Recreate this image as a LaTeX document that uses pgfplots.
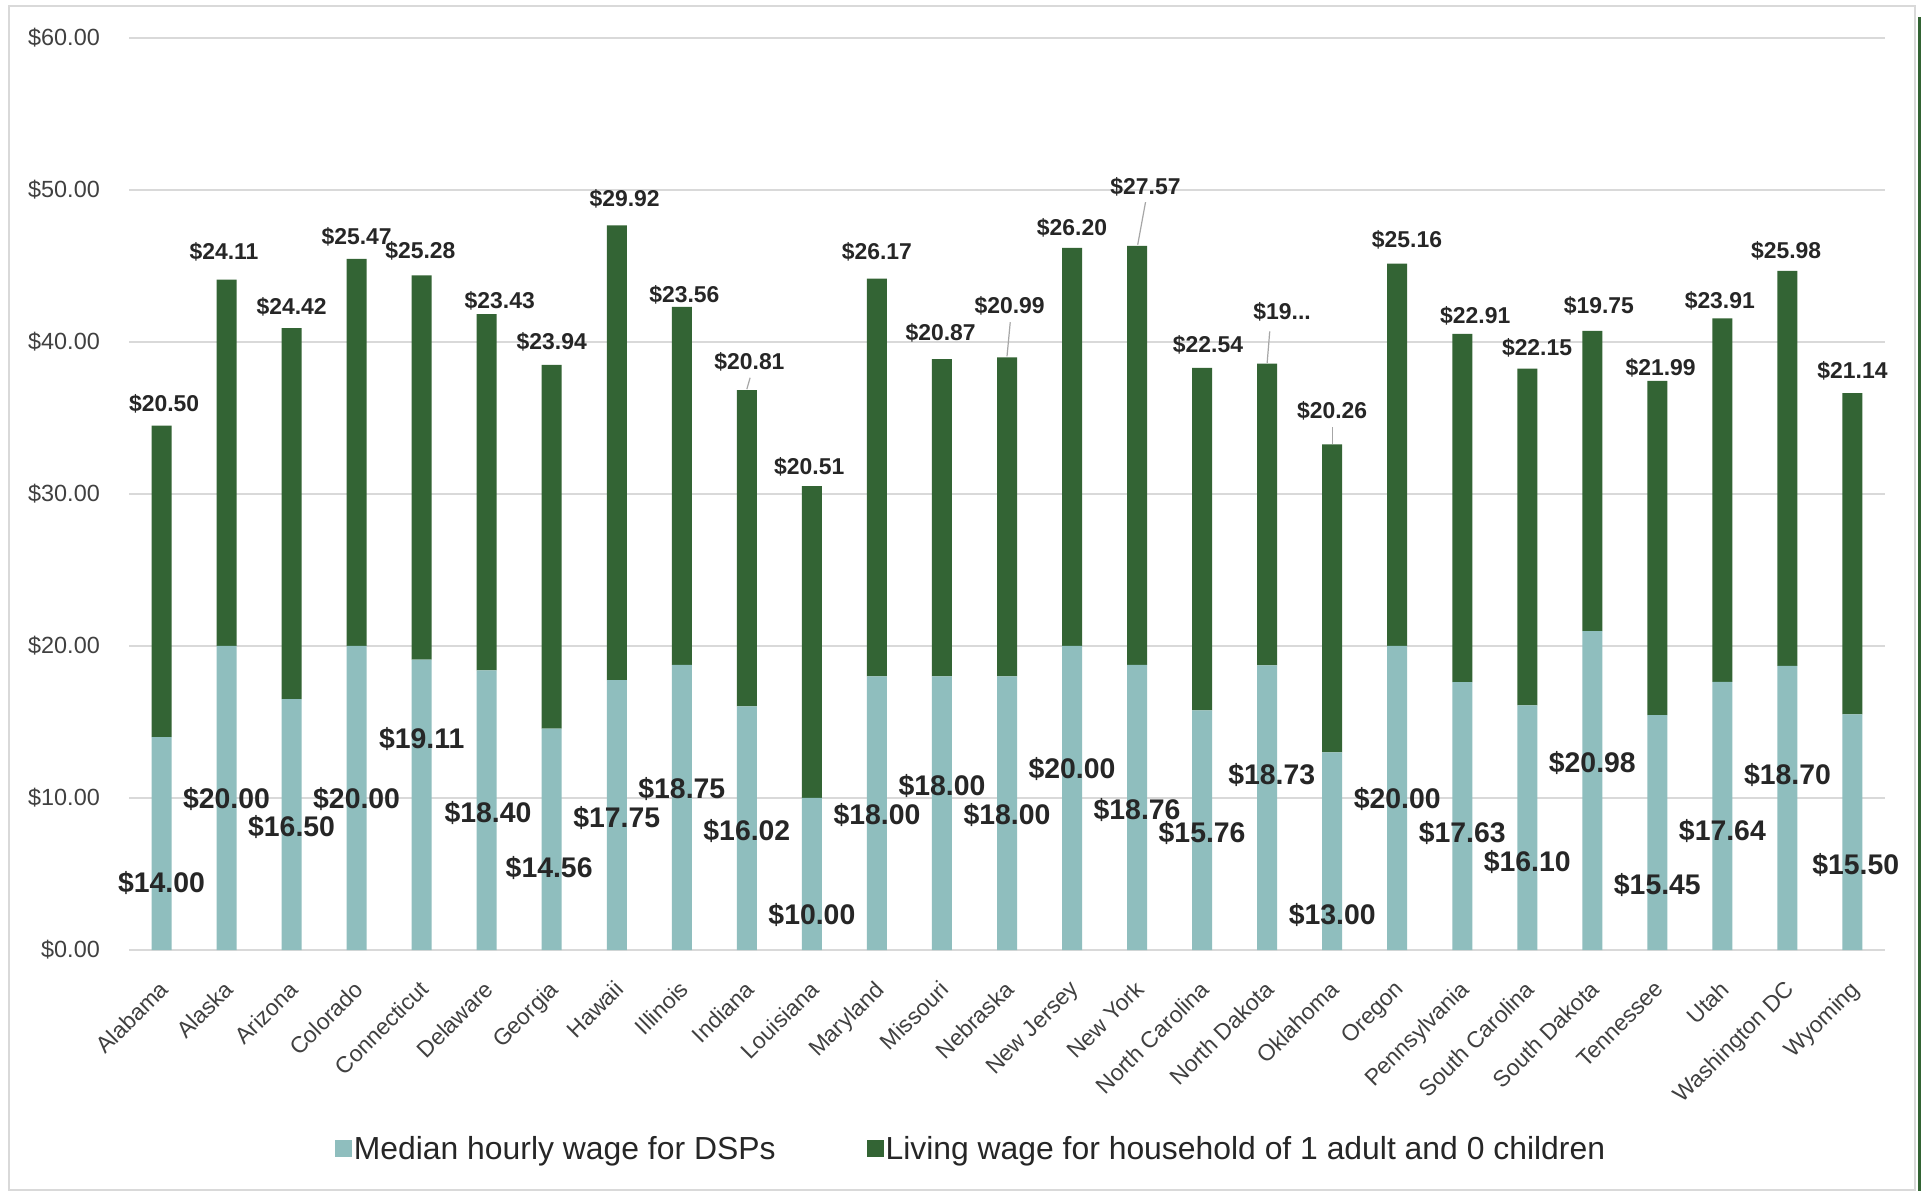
\documentclass[border=0pt]{standalone}
\usepackage{pgfplots}
\pgfplotsset{compat=1.18}
\usepackage{pgfplotstable}
\usepackage{fontspec}
\setmainfont{Liberation Sans}
\definecolor{medc}{RGB}{143,190,190}
\definecolor{livc}{RGB}{51,100,52}
\definecolor{gridc}{RGB}{217,217,217}
\definecolor{txtc}{RGB}{38,38,38}
\definecolor{tickc}{RGB}{64,64,64}
\definecolor{leadc}{RGB}{166,166,166}

\pgfplotstableread{
idx med liv
0 14.00 20.50
1 20.00 24.11
2 16.50 24.42
3 20.00 25.47
4 19.11 25.28
5 18.40 23.43
6 14.56 23.94
7 17.75 29.92
8 18.75 23.56
9 16.02 20.81
10 10.00 20.51
11 18.00 26.17
12 18.00 20.87
13 18.00 20.99
14 20.00 26.20
15 18.76 27.57
16 15.76 22.54
17 18.73 19.85
18 13.00 20.26
19 20.00 25.16
20 17.63 22.91
21 16.10 22.15
22 20.98 19.75
23 15.45 21.99
24 17.64 23.91
25 18.70 25.98
26 15.50 21.14
}\data

\begin{document}
\begin{tikzpicture}[
  tl/.style={font=\bfseries\fontsize{23}{27}\selectfont, text=txtc, inner sep=0pt},
  bl/.style={font=\bfseries\fontsize{28.5}{33}\selectfont, text=txtc, inner sep=0pt}]
\useasboundingbox (0bp,0bp) rectangle (1925bp,1191bp);
\fill[white] (0bp,0bp) rectangle (1925bp,1191bp);
\draw[gridc, line width=2bp] (9bp,1bp) rectangle (1915bp,1185bp);
\draw[livc, line width=3bp] (1919bp,0bp) -- (1919bp,1174bp);
\begin{axis}[
  at={(129bp,241bp)}, anchor=south west,
  scale only axis, width=1756bp, height=912bp,
  ybar stacked, bar width=20bp,
  xmin=-0.5, xmax=26.5, ymin=0, ymax=60,
  axis line style={draw=none},
  ymajorgrids, grid style={gridc, line width=1.6bp},
  major tick length=0pt,
  ytick={0,10,20,30,40,50,60},
  yticklabels={\$0.00,\$10.00,\$20.00,\$30.00,\$40.00,\$50.00,\$60.00},
  xtick={0,...,26},
  xticklabels={Alabama,Alaska,Arizona,Colorado,Connecticut,Delaware,Georgia,Hawaii,Illinois,Indiana,Louisiana,Maryland,Missouri,Nebraska,New Jersey,New York,North Carolina,North Dakota,Oklahoma,Oregon,Pennsylvania,South Carolina,South Dakota,Tennessee,Utah,Washington DC,Wyoming},
  yticklabel style={font=\fontsize{23.5}{27}\selectfont, text=tickc, anchor=east, inner sep=0pt, xshift=-29bp},
  xticklabel style={font=\fontsize{23}{27}\selectfont, text=tickc, rotate=45, anchor=north east, inner sep=0pt, xshift=-23bp, yshift=-18bp},
  legend image code/.code={\fill[#1] (-3bp,-8.5bp) rectangle (14bp,8.5bp);},
  legend style={at={(0.4795,-0.218)}, anchor=center, draw=none, fill=none,
    legend columns=2, font=\fontsize{32}{37}\selectfont, text=txtc,
    /tikz/every even column/.append style={column sep=89bp}},
  clip=false,
]
\addplot[fill=medc, draw=none] table[x=idx, y=med] {\data};
\addlegendentry{Median hourly wage for DSPs}
\addplot[fill=livc, draw=none] table[x=idx, y=liv] {\data};
\addlegendentry{Living wage for household of 1 adult and 0 children}

% top label positions
\coordinate (T0) at (axis cs:0.04,35.9);
\coordinate (T1) at (axis cs:0.96,45.9);
\coordinate (T2) at (axis cs:2.0,42.3);
\coordinate (T3) at (axis cs:3.0,46.9);
\coordinate (T4) at (axis cs:3.98,46.0);
\coordinate (T5) at (axis cs:5.2,42.7);
\coordinate (T6) at (axis cs:6.0,40.0);
\coordinate (T7) at (axis cs:7.12,49.45);
\coordinate (T8) at (axis cs:8.04,43.1);
\coordinate (T9) at (axis cs:9.04,38.7);
\coordinate (T10) at (axis cs:9.96,31.8);
\coordinate (T11) at (axis cs:11.0,45.9);
\coordinate (T12) at (axis cs:11.98,40.6);
\coordinate (T13) at (axis cs:13.04,42.4);
\coordinate (T14) at (axis cs:14.0,47.5);
\coordinate (T15) at (axis cs:15.13,50.2);
\coordinate (T16) at (axis cs:16.09,39.8);
\coordinate (T17) at (axis cs:17.23,42.0);
\coordinate (T18) at (axis cs:18.0,35.5);
\coordinate (T19) at (axis cs:19.15,46.7);
\coordinate (T20) at (axis cs:20.2,41.7);
\coordinate (T21) at (axis cs:21.15,39.6);
\coordinate (T22) at (axis cs:22.1,42.4);
\coordinate (T23) at (axis cs:23.05,38.3);
\coordinate (T24) at (axis cs:23.96,42.7);
\coordinate (T25) at (axis cs:24.98,46.0);
\coordinate (T26) at (axis cs:26.0,38.1);
% leader line ends
\coordinate (L1a) at (axis cs:9.05,37.65);  \coordinate (L1b) at (axis cs:9.0,36.9);
\coordinate (L2a) at (axis cs:13.05,41.3);  \coordinate (L2b) at (axis cs:13.0,39.05);
\coordinate (L3a) at (axis cs:15.13,49.2);  \coordinate (L3b) at (axis cs:15.01,46.4);
\coordinate (L4a) at (axis cs:17.04,40.7);  \coordinate (L4b) at (axis cs:17.0,38.62);
\coordinate (L5a) at (axis cs:18.0,34.4);   \coordinate (L5b) at (axis cs:18.0,33.3);
% bottom label positions
\coordinate (B0) at (axis cs:0.0,4.4);
\coordinate (B1) at (axis cs:1.0,9.9);
\coordinate (B2) at (axis cs:2.0,8.1);
\coordinate (B3) at (axis cs:3.0,9.9);
\coordinate (B4) at (axis cs:4.0,13.85);
\coordinate (B5) at (axis cs:5.02,9.0);
\coordinate (B6) at (axis cs:5.96,5.4);
\coordinate (B7) at (axis cs:7.0,8.7);
\coordinate (B8) at (axis cs:8.0,10.6);
\coordinate (B9) at (axis cs:9.0,7.8);
\coordinate (B10) at (axis cs:10.0,2.3);
\coordinate (B11) at (axis cs:11.0,8.9);
\coordinate (B12) at (axis cs:12.0,10.8);
\coordinate (B13) at (axis cs:13.0,8.9);
\coordinate (B14) at (axis cs:14.0,11.9);
\coordinate (B15) at (axis cs:15.0,9.2);
\coordinate (B16) at (axis cs:16.0,7.7);
\coordinate (B17) at (axis cs:17.07,11.5);
\coordinate (B18) at (axis cs:18.0,2.3);
\coordinate (B19) at (axis cs:19.0,9.9);
\coordinate (B20) at (axis cs:20.0,7.7);
\coordinate (B21) at (axis cs:21.0,5.8);
\coordinate (B22) at (axis cs:22.0,12.3);
\coordinate (B23) at (axis cs:23.0,4.3);
\coordinate (B24) at (axis cs:24.0,7.8);
\coordinate (B25) at (axis cs:25.0,11.5);
\coordinate (B26) at (axis cs:26.05,5.6);
\end{axis}

% top labels
\node[tl] at (T0) {\$20.50};
\node[tl] at (T1) {\$24.11};
\node[tl] at (T2) {\$24.42};
\node[tl] at (T3) {\$25.47};
\node[tl] at (T4) {\$25.28};
\node[tl] at (T5) {\$23.43};
\node[tl] at (T6) {\$23.94};
\node[tl] at (T7) {\$29.92};
\node[tl] at (T8) {\$23.56};
\node[tl] at (T9) {\$20.81};
\node[tl] at (T10) {\$20.51};
\node[tl] at (T11) {\$26.17};
\node[tl] at (T12) {\$20.87};
\node[tl] at (T13) {\$20.99};
\node[tl] at (T14) {\$26.20};
\node[tl] at (T15) {\$27.57};
\node[tl] at (T16) {\$22.54};
\node[tl] at (T17) {\$19...};
\node[tl] at (T18) {\$20.26};
\node[tl] at (T19) {\$25.16};
\node[tl] at (T20) {\$22.91};
\node[tl] at (T21) {\$22.15};
\node[tl] at (T22) {\$19.75};
\node[tl] at (T23) {\$21.99};
\node[tl] at (T24) {\$23.91};
\node[tl] at (T25) {\$25.98};
\node[tl] at (T26) {\$21.14};
% leader lines
\draw[leadc, line width=1.2bp] (L1a) -- (L1b);
\draw[leadc, line width=1.2bp] (L2a) -- (L2b);
\draw[leadc, line width=1.2bp] (L3a) -- (L3b);
\draw[leadc, line width=1.2bp] (L4a) -- (L4b);
\draw[leadc, line width=1.2bp] (L5a) -- (L5b);
% bottom labels
\node[bl] at (B0) {\$14.00};
\node[bl] at (B1) {\$20.00};
\node[bl] at (B2) {\$16.50};
\node[bl] at (B3) {\$20.00};
\node[bl] at (B4) {\$19.11};
\node[bl] at (B5) {\$18.40};
\node[bl] at (B6) {\$14.56};
\node[bl] at (B7) {\$17.75};
\node[bl] at (B8) {\$18.75};
\node[bl] at (B9) {\$16.02};
\node[bl] at (B10) {\$10.00};
\node[bl] at (B11) {\$18.00};
\node[bl] at (B12) {\$18.00};
\node[bl] at (B13) {\$18.00};
\node[bl] at (B14) {\$20.00};
\node[bl] at (B15) {\$18.76};
\node[bl] at (B16) {\$15.76};
\node[bl] at (B17) {\$18.73};
\node[bl] at (B18) {\$13.00};
\node[bl] at (B19) {\$20.00};
\node[bl] at (B20) {\$17.63};
\node[bl] at (B21) {\$16.10};
\node[bl] at (B22) {\$20.98};
\node[bl] at (B23) {\$15.45};
\node[bl] at (B24) {\$17.64};
\node[bl] at (B25) {\$18.70};
\node[bl] at (B26) {\$15.50};
\end{tikzpicture}
\end{document}
